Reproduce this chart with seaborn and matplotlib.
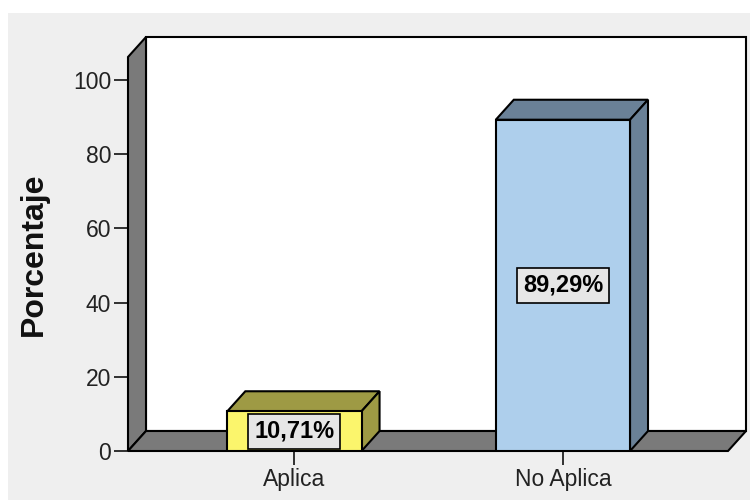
import matplotlib
matplotlib.use("Agg")
import matplotlib.pyplot as plt
from matplotlib.patches import Polygon, Rectangle
import seaborn as sns
import pandas as pd

# Data
categories = ["Aplica", "No Aplica"]
percentages = [10.71, 89.29]
y_ticks = [0, 20, 40, 60, 80, 100]

# Colours: front face, then top/side face
front_colors = ["#fbf56c", "#aecfec"]
shade_colors = ["#9e9a44", "#6a8197"]
wall_color = "#7a7a7a"
bg_color = "#efefef"

sns.set_theme(style="white")
plt.rcParams["font.family"] = ["Liberation Sans", "DejaVu Sans"]

fig = plt.figure(figsize=(7.5, 5), dpi=100)
fig.patch.set_facecolor("white")
fig.patches.append(Rectangle((8 / 750, 0), 742 / 750, 487 / 500,
                             transform=fig.transFigure, facecolor=bg_color,
                             edgecolor="none", zorder=-5))

ax = fig.add_axes([128 / 750, 49 / 500, 600 / 750, 394 / 500])
ax.set_facecolor("none")

xmin, xmax = -0.62, 1.615
ymax = 106.2

# depth of the fake 3D effect, in pixels -> data units
DX_PX, DY_PX = 18, 20
dx = DX_PX * (xmax - xmin) / 600
dy = DY_PX * ymax / 394

df = pd.DataFrame({"Categoria": categories, "Porcentaje": percentages})
sns.barplot(data=df, x="Categoria", y="Porcentaje", hue="Categoria",
            palette=front_colors, legend=False, width=0.5, saturation=1,
            edgecolor="black", linewidth=1.5, ax=ax, zorder=4)
ax.set_xlim(xmin, xmax)
ax.set_ylim(0, ymax)

# back wall
ax.add_patch(Polygon([(xmin + dx, dy), (xmin + dx, ymax + dy),
                      (xmax + dx, ymax + dy), (xmax + dx, dy)],
                     closed=True, facecolor="white", edgecolor="black",
                     linewidth=1.5, clip_on=False, zorder=0))
# left wall
ax.add_patch(Polygon([(xmin, 0), (xmin, ymax), (xmin + dx, ymax + dy), (xmin + dx, dy)],
                     closed=True, facecolor=wall_color, edgecolor="black",
                     linewidth=1.5, clip_on=False, zorder=1))
# floor
ax.add_patch(Polygon([(xmin, 0), (xmin + dx, dy), (xmax + dx, dy), (xmax, 0)],
                     closed=True, facecolor=wall_color, edgecolor="black",
                     linewidth=1.5, clip_on=False, zorder=1))

# top and side faces for each bar, taken from the bars seaborn drew
for bar, shade in zip(ax.patches[:len(categories)], shade_colors):
    x0 = bar.get_x()
    x1 = x0 + bar.get_width()
    h = bar.get_height()
    ax.add_patch(Polygon([(x0, h), (x0 + dx, h + dy), (x1 + dx, h + dy), (x1, h)],
                         closed=True, facecolor=shade, edgecolor="black",
                         linewidth=1.5, clip_on=False, zorder=3))
    ax.add_patch(Polygon([(x1, 0), (x1, h), (x1 + dx, h + dy), (x1 + dx, dy)],
                         closed=True, facecolor=shade, edgecolor="black",
                         linewidth=1.5, clip_on=False, zorder=3))
    label = f"{h:.2f}".replace(".", ",") + "%"
    ax.text(x0 + bar.get_width() / 2, h / 2, label, ha="center", va="center",
            fontsize=17, fontweight="bold", color="black", zorder=6,
            bbox=dict(boxstyle="square,pad=0.25", facecolor="#e6e6e6",
                      edgecolor="black", linewidth=1.2))

for side in ["top", "right", "left", "bottom"]:
    ax.spines[side].set_visible(False)

ax.set_yticks(y_ticks)
ax.set_yticklabels([str(t) for t in y_ticks])
ax.tick_params(axis="both", which="both", direction="out", length=10, width=1.3,
               color="#222222", labelsize=16.5, labelcolor="#222222", pad=2,
               left=True, bottom=True)
ax.set_xlabel("")
ax.set_ylabel("Porcentaje", fontsize=23, fontweight="bold", color="#111111")
ax.yaxis.set_label_coords(-0.132, 0.5)

fig.savefig("out.png", dpi=100)
